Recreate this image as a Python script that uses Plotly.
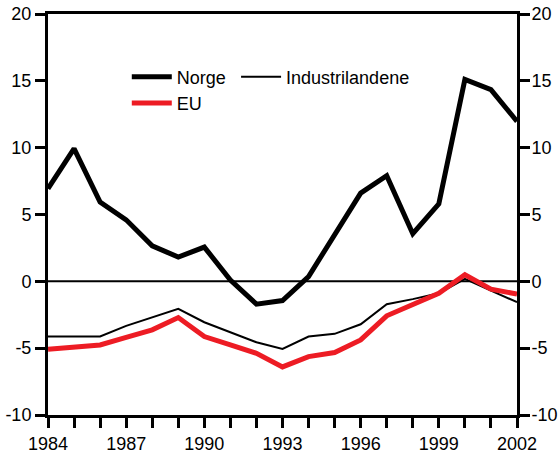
import plotly.graph_objects as go

years = list(range(1984, 2003))
norge = [6.93, 9.93, 5.93, 4.6, 2.66, 1.81, 2.56, 0.1, -1.71, -1.44, 0.36, 3.55, 6.6, 7.9, 3.56, 5.8, 15.1, 14.34, 11.97]
industrilandene = [-4.13, -4.13, -4.13, -3.33, -2.68, -2.06, -3.06, -3.81, -4.56, -5.06, -4.13, -3.93, -3.21, -1.71, -1.33, -0.89, 0.19, -0.69, -1.56]
eu = [-5.08, -4.93, -4.76, -4.2, -3.63, -2.71, -4.13, -4.76, -5.38, -6.4, -5.63, -5.33, -4.38, -2.58, -1.76, -0.89, 0.49, -0.58, -0.96]

y_ticks = [-10, -5, 0, 5, 10, 15, 20]
x_ticks = [1984, 1987, 1990, 1993, 1996, 1999, 2002]

RED = "#ED1C24"
FONT = "Liberation Sans, Arial, sans-serif"

fig = go.Figure()
fig.add_trace(go.Scatter(x=years, y=norge, mode="lines", name="Norge",
                         line=dict(color="black", width=5), legend="legend"))
fig.add_trace(go.Scatter(x=years, y=industrilandene, mode="lines", name="Industrilandene",
                         line=dict(color="black", width=2), legend="legend2"))
fig.add_trace(go.Scatter(x=years, y=eu, mode="lines", name="EU",
                         line=dict(color=RED, width=5), legend="legend"))
# invisible trace to activate the right-hand axis
fig.add_trace(go.Scatter(x=years, y=norge, yaxis="y2", mode="lines", showlegend=False,
                         hoverinfo="skip", line=dict(width=0), opacity=0))

axis_common = dict(
    showgrid=False, zeroline=False, showline=True, linecolor="black", linewidth=3,
    ticks="outside", ticklen=10, tickwidth=3, tickcolor="black", automargin=False,
    ticklabeloverflow="allow",
    tickfont=dict(family=FONT, size=18, color="black"),
)

legend_common = dict(
    orientation="v", xanchor="left", yanchor="top", itemwidth=40,
    font=dict(family=FONT, size=18, color="black"),
    bgcolor="rgba(0,0,0,0)", tracegroupgap=0,
)

fig.update_layout(
    width=558, height=453,
    margin=dict(l=48, r=41, t=14, b=38, autoexpand=False),
    paper_bgcolor="white", plot_bgcolor="white",
    showlegend=True,
    legend=dict(**legend_common, x=0.168, y=0.889),
    legend2=dict(**legend_common, x=0.401, y=0.889),
    xaxis=dict(
        **axis_common,
        range=[1984, 2002], tickvals=x_ticks, ticktext=[str(v) for v in x_ticks],
        minor=dict(dtick=1, tick0=1984, ticks="outside", ticklen=10, tickwidth=3, tickcolor="black"),
        mirror=True,
    ),
    yaxis=dict(
        **axis_common,
        range=[-10, 20], tickvals=y_ticks, ticktext=[str(v) for v in y_ticks],
    ),
    yaxis2=dict(
        **axis_common,
        range=[-10, 20], tickvals=y_ticks, ticktext=[str(v) for v in y_ticks],
        overlaying="y", side="right", ticklabelstandoff=-2,
    ),
    shapes=[dict(type="line", xref="paper", x0=0, x1=1, yref="y", y0=0, y1=0,
                 line=dict(color="black", width=2), layer="below")],
)

fig.write_html(
    "out.html",
    config={"displayModeBar": False},
    post_script="document.body.style.margin='0px';document.body.style.overflow='hidden';",
)
